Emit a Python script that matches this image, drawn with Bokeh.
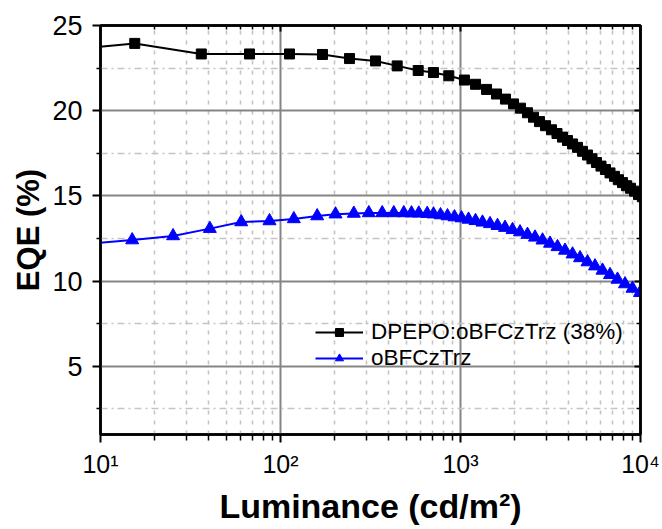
from bokeh.plotting import figure
from bokeh.models import FixedTicker, LinearAxis, LogAxis, Legend, LegendItem, Range1d
from bokeh.embed import file_html
from bokeh.resources import INLINE

# ---- data ----
dpepo_lum = [8.0, 15.5, 36.3, 67.3, 112.2, 171.1, 241.7, 337.2, 444.9, 582.1, 707.9, 861.0,
             1052, 1212, 1395, 1585, 1778, 1970, 2154, 2356, 2544, 2748, 2967, 3203, 3437,
             3687, 3931, 4192, 4467, 4763, 5077, 5378, 5695, 6033, 6392, 6770, 7170, 7548,
             7943, 8360, 8800, 9262, 9747, 10240]
dpepo_eqe = [23.65, 23.95, 23.33, 23.33, 23.33, 23.3, 23.06, 22.92, 22.63, 22.36, 22.24, 22.05,
             21.8, 21.55, 21.25, 20.98, 20.68, 20.4, 20.15, 19.88, 19.62, 19.36, 19.12, 18.88,
             18.66, 18.45, 18.25, 18.05, 17.85, 17.62, 17.4, 17.18, 16.96, 16.75, 16.55, 16.35,
             16.15, 15.95, 15.78, 15.6, 15.45, 15.28, 15.08, 14.95]

obf_lum = [8.5, 15.0, 25.3, 40.5, 60.5, 86.9, 118.6, 159.9, 202.1, 255.4, 309.5, 367.3, 426.1,
           484.2, 534.2, 586.6, 653.1, 707.9, 774.3, 846.9, 926.3, 1013, 1108, 1212, 1325, 1459,
           1605, 1767, 1945, 2141, 2356, 2594, 2855, 3143, 3459, 3807, 4192, 4613, 5077, 5588,
           6151, 6770, 7452, 8202, 9028, 9937]
obf_eqe = [12.2, 12.41, 12.65, 13.08, 13.47, 13.53, 13.65, 13.82, 13.93, 13.97, 14.0, 14.0, 14.0,
           14.0, 13.99, 13.98, 13.96, 13.93, 13.88, 13.82, 13.76, 13.70, 13.62, 13.54, 13.45,
           13.36, 13.25, 13.14, 13.01, 12.88, 12.73, 12.57, 12.40, 12.21, 12.01, 11.80, 11.58,
           11.36, 11.12, 10.88, 10.63, 10.37, 10.10, 9.83, 9.57, 9.32]

series_labels = ["DPEPO:oBFCzTrz (38%)", "oBFCzTrz"]

x_major = [10, 100, 1000, 10000]
x_major_labels = {10: "10\u00b9", 100: "10\u00b2", 1000: "10\u00b3", 10000: "10\u2074"}
x_minor = [m * d for d in (10, 100, 1000) for m in range(2, 10)]
y_major = [5, 10, 15, 20, 25]
y_minor = [2.5, 7.5, 12.5, 17.5, 22.5]

FONT = "Liberation Sans"

p = figure(width=662, height=529, x_axis_type="log",
           x_range=Range1d(10, 10000), y_range=Range1d(1, 25),
           output_backend="svg", toolbar_location=None,
           min_border_left=100, min_border_right=22, min_border_top=25, min_border_bottom=95)

p.background_fill_color = "white"
p.border_fill_color = "white"
p.outline_line_color = "black"
p.outline_line_width = 2.5

xt = FixedTicker(ticks=x_major, minor_ticks=x_minor)
yt = FixedTicker(ticks=y_major, minor_ticks=y_minor)

# bottom axis
xa = p.xaxis[0]
xa.ticker = xt
xa.major_label_overrides = x_major_labels
xa.axis_label = "Luminance (cd/m\u00b2)"
xa.axis_label_text_font = FONT
xa.axis_label_text_font_style = "bold"
xa.axis_label_text_font_size = "34px"
xa.axis_label_text_color = "black"
xa.axis_label_standoff = 6
xa.major_label_text_font = FONT
xa.major_label_text_font_size = "25px"
xa.major_label_text_color = "black"
xa.major_label_standoff = 7

# left axis
ya = p.yaxis[0]
ya.ticker = yt
ya.axis_label = "EQE (%)"
ya.axis_label_text_font = FONT
ya.axis_label_text_font_style = "bold"
ya.axis_label_text_font_size = "31px"
ya.axis_label_text_color = "black"
ya.axis_label_standoff = 3
ya.major_label_text_font = FONT
ya.major_label_text_font_size = "27px"
ya.major_label_text_color = "black"
ya.major_label_standoff = 10

for ax in (xa, ya):
    ax.axis_line_width = 2.5
    ax.axis_line_color = "black"
    ax.major_tick_line_width = 2
    ax.minor_tick_line_width = 1.5
    ax.major_tick_line_color = "black"
    ax.minor_tick_line_color = "black"
    ax.major_tick_out = 8
    ax.major_tick_in = 0
    ax.minor_tick_in = 0
xa.minor_tick_out = 6
ya.minor_tick_out = 4

# right and top axes (ticks only, pointing inward)
ra = LinearAxis(ticker=yt)
ta = LogAxis(ticker=xt)
for ax in (ra, ta):
    ax.major_label_text_font_size = "1px"
    ax.major_label_text_alpha = 0
    ax.major_label_standoff = 0
    ax.axis_line_width = 2.5
    ax.axis_line_color = "black"
    ax.major_tick_out = 0
    ax.minor_tick_out = 0
    ax.major_tick_in = 6
    ax.minor_tick_in = 4
    ax.major_tick_line_width = 2
    ax.minor_tick_line_width = 1.5
    ax.major_tick_line_color = "black"
    ax.minor_tick_line_color = "black"
p.add_layout(ra, "right")
p.add_layout(ta, "above")

# grids
p.xgrid.ticker = xt
p.ygrid.ticker = yt
for g in (p.xgrid[0], p.ygrid[0]):
    g.grid_line_color = "#858585"
    g.grid_line_width = 2
    g.minor_grid_line_color = "#c4c4c4"
    g.minor_grid_line_width = 1.6
p.xgrid.minor_grid_line_dash = "4 6"
p.ygrid.minor_grid_line_dash = "7 4 2 4"

# series
l1 = p.line(dpepo_lum, dpepo_eqe, line_color="black", line_width=2)
s1 = p.scatter(dpepo_lum, dpepo_eqe, marker="square", size=10, fill_color="black", line_color="black")
l2 = p.line(obf_lum, obf_eqe, line_color="#0000ff", line_width=2)
s2 = p.scatter(obf_lum, obf_eqe, marker="triangle", size=13, fill_color="#0000ff", line_color="#0000ff")

legend = Legend(items=[LegendItem(label=series_labels[0], renderers=[l1, s1]),
                       LegendItem(label=series_labels[1], renderers=[l2, s2])],
                location=(215, 63))
legend.background_fill_alpha = 0
legend.border_line_alpha = 0
legend.padding = 0
legend.margin = 0
legend.spacing = 0
legend.glyph_width = 48
legend.glyph_height = 20
legend.label_standoff = 8
legend.label_text_font = FONT
legend.label_text_font_size = "22.5px"
legend.label_text_color = "black"
p.add_layout(legend, "center")

open("out.html", "w").write(file_html(p, INLINE))
